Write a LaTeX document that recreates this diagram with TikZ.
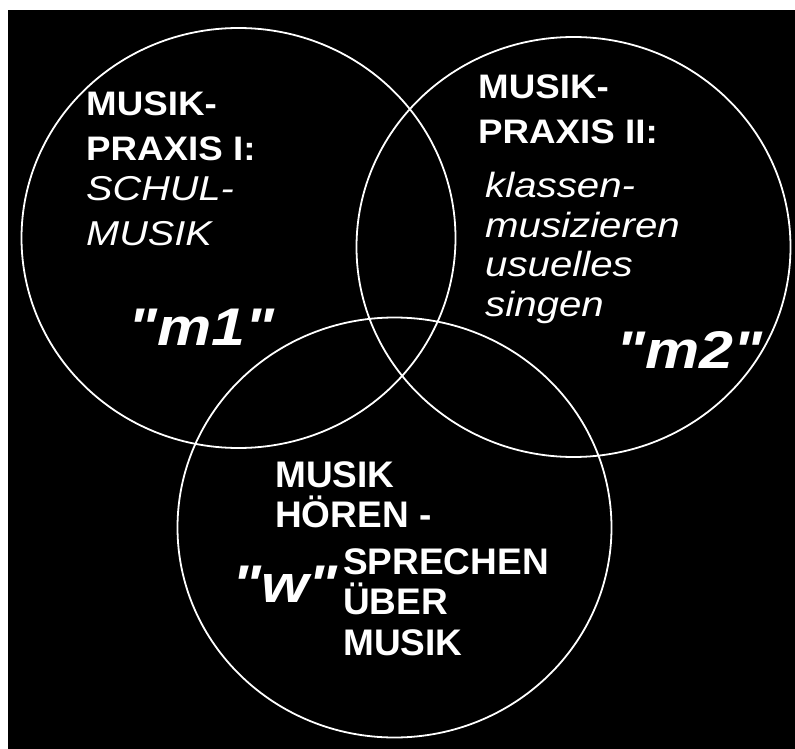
\documentclass[tikz,border=0pt]{standalone}
\usepackage{fontspec}
\newfontfamily\vennwide[FakeStretch=1.15]{Liberation Sans}
\newfontfamily\vennhead[FakeStretch=1.08]{Liberation Sans}
\newfontfamily\vennplain{Liberation Sans}

\begin{document}
\begin{tikzpicture}[x=1pt,y=-1pt,
  every node/.style={text=white,inner sep=0pt,align=left,anchor=north west},
  ring/.style={draw=white,line width=1.8pt},
  head/.style={font=\vennhead\bfseries\fontsize{34}{45}\selectfont},
  sub/.style={font=\vennwide\itshape\fontsize{34.5}{45}\selectfont},
  subr/.style={font=\vennwide\itshape\fontsize{35}{39.5}\selectfont},
  low/.style={font=\vennplain\bfseries\fontsize{37}{40.5}\selectfont},
  quotemark/.style={font=\vennwide\bfseries\itshape\fontsize{53}{53}\selectfont,anchor=base west}]
\useasboundingbox (0,0) rectangle (795,749);
\fill[white] (0,0) rectangle (795,749);
\fill[black] (8,10) rectangle (795,749);
\coordinate (c1) at (238.5,238);
\coordinate (c2) at (573.5,247);
\coordinate (c3) at (394.5,527.5);
\draw[ring] (c1) ellipse [x radius=217,y radius=210];
\draw[ring] (c2) ellipse [x radius=217,y radius=210];
\draw[ring] (c3) ellipse [x radius=217,y radius=210];
\node[head] (m1head) at (86,92) {MUSIK-\\PRAXIS I:};
\node[sub] (m1sub) at (86,176) {SCHUL-\\MUSIK};
\node[quotemark] (m1) at (128,345) {"m1"};
\node[head] (m2head) at (478,75) {MUSIK-\\PRAXIS II:};
\node[subr] (m2sub) at (485,172) {klassen-\\musizieren\\usuelles\\singen};
\node[quotemark] (m2) at (616,368) {"m2"};
\node[low] (whead) at (275,461) {MUSIK\\HÖREN -};
\node[low] (wsub) at (343,548) {SPRECHEN\\ÜBER\\MUSIK};
\node[quotemark] (w) at (232,602) {"w"};
\end{tikzpicture}
\end{document}
